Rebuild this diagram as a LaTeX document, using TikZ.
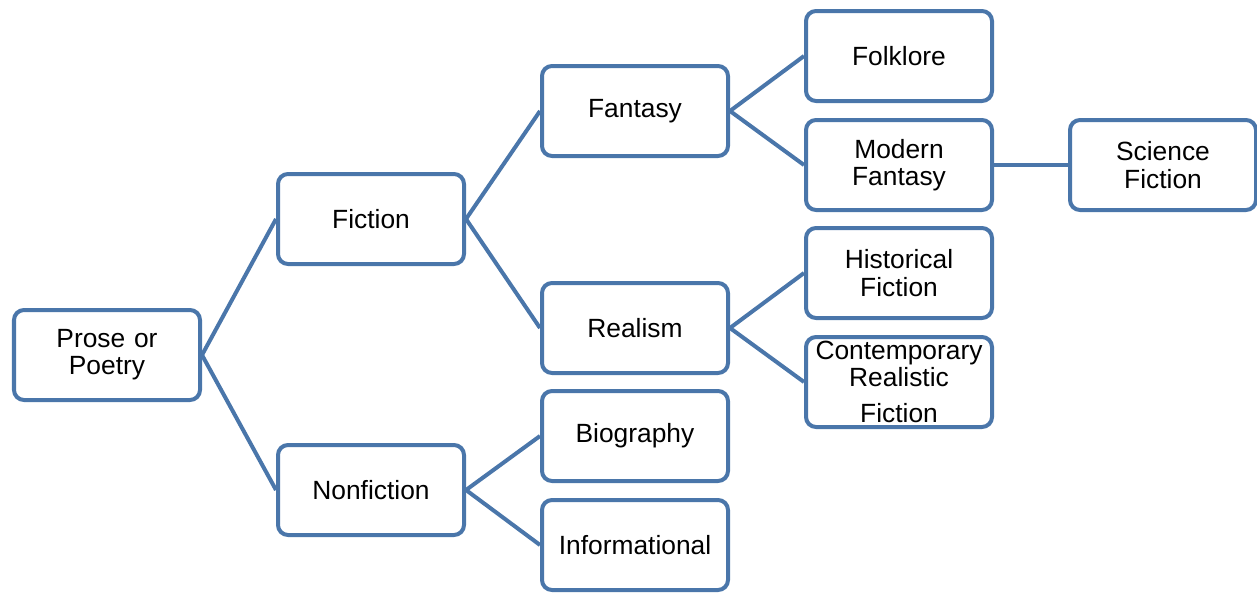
\documentclass[tikz,border=0pt]{standalone}
\usepackage{fontspec}
\setmainfont{Liberation Sans}
\usetikzlibrary{positioning}
\definecolor{boxblue}{RGB}{74,118,170}

\begin{document}
\begin{tikzpicture}[
  node distance=1.48cm,
  box/.style={draw=boxblue, line width=0.08cm, rounded corners=0.2cm, fill=white,
              align=center, inner sep=0pt, text width=3.6cm,
              minimum width=3.72cm, minimum height=1.8cm,
              font=\fontsize{15}{15.5}\selectfont},
  link/.style={draw=boxblue, line width=0.08cm}]
  \useasboundingbox (0,0) rectangle (25.14,-11.86);
  % column 1
  \node[box] (prose) at (2.14,-7.10) {Prose or\\ Poetry};
  % column 2
  \node[box, right=of prose, yshift=2.72cm] (fiction) {Fiction};
  \node[box, right=of prose, yshift=-2.70cm] (nonfic) {Nonfiction};
  % column 3
  \node[box, right=of fiction, yshift=2.16cm] (fantasy) {Fantasy};
  \node[box, right=of fiction, yshift=-2.18cm] (realism) {Realism};
  \node[box, right=of nonfic, yshift=1.08cm] (bio) {Biography};
  \node[box, right=of nonfic, yshift=-1.10cm] (info) {Informational};
  % column 4
  \node[box, right=of fantasy, yshift=1.10cm] (folk) {Folklore};
  \node[box, right=of fantasy, yshift=-1.08cm] (modern) {Modern\\ Fantasy};
  \node[box, right=of realism, yshift=1.10cm] (hist) {Historical\\ Fiction};
  \node[box, right=of realism, yshift=-1.08cm] (contemp) {Contemporary\\ Realistic\\[5pt] Fiction};
  % column 5
  \node[box, right=of modern] (scifi) {Science\\ Fiction};
  % links
  \foreach \a/\b in {prose/fiction, prose/nonfic, fiction/fantasy, fiction/realism,
                     nonfic/bio, nonfic/info, fantasy/folk, fantasy/modern,
                     realism/hist, realism/contemp, modern/scifi}
    \draw[link] (\a.east) -- (\b.west);
\end{tikzpicture}
\end{document}
